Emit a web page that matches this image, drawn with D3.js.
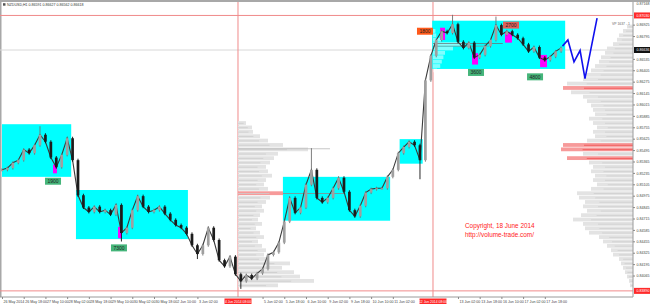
<!DOCTYPE html>
<html>
<head>
<meta charset="utf-8">
<script src="https://cdn.jsdelivr.net/npm/d3@7"></script>
<style>
  body { margin: 0; background: #fff; }
  svg { display: block; font-family: "Liberation Sans", Arial, sans-serif; }
</style>
</head>
<body>
<svg id="chart" width="650" height="306"></svg>
<script>
// NZDUSD H1, closes sampled every 4 bars (bar index = 4 * i)
const closes = [
  0.8527, 0.8529, 0.8535, 0.8538, 0.8550, 0.8546, 0.8555, 0.8567, 0.8559, 0.8541,
  0.8530, 0.8544, 0.8563, 0.8538, 0.8498, 0.8484, 0.8479, 0.8485, 0.8479, 0.8481,
  0.8476, 0.8487, 0.8455, 0.8461, 0.8481, 0.8497, 0.8485, 0.8479, 0.8481, 0.8485,
  0.8477, 0.8470, 0.8464, 0.8461, 0.8454, 0.8441, 0.8431, 0.8441, 0.8461, 0.8447,
  0.8424, 0.8417, 0.8428, 0.8408, 0.8400, 0.8407, 0.8403, 0.8409, 0.8414, 0.8430,
  0.8433, 0.8444, 0.8468, 0.8495, 0.8478, 0.8484, 0.8510, 0.8527, 0.8495, 0.8490,
  0.8495, 0.8506, 0.8518, 0.8502, 0.8481, 0.8474, 0.8486, 0.8501, 0.8505, 0.8506,
  0.8506, 0.8519, 0.8527, 0.8546, 0.8553, 0.8559, 0.8555, 0.8538, 0.8629, 0.8657,
  0.8675, 0.8685, 0.8683, 0.8693, 0.8673, 0.8666, 0.8672, 0.8655, 0.8658, 0.8668,
  0.8675, 0.8692, 0.8681, 0.8685, 0.8681, 0.8677, 0.8670, 0.8662, 0.8667, 0.8655,
  0.8652, 0.8656, 0.8662, 0.8666
];
// extreme wicks: [candle number, price]
const wicks = [[7, 0.8575], [22, 0.8447], [36, 0.8427], [44, 0.8393], [57, 0.8550],
  [77, 0.8518], [83, 0.8702], [91, 0.8700]];

const timeLabels = ["26 May 2014", "26 May 18:00", "27 May 10:00", "28 May 02:00", "28 May 18:00",
  "29 May 10:00", "30 May 02:00", "30 May 18:00", "2 Jun 10:00", "3 Jun 02:00", "3 Jun 18:00",
  "4 Jun 10:00", "5 Jun 02:00", "5 Jun 18:00", "6 Jun 10:00", "9 Jun 02:00", "9 Jun 18:00",
  "10 Jun 10:00", "11 Jun 02:00", "11 Jun 18:00", "12 Jun 10:00", "13 Jun 02:00", "13 Jun 18:00",
  "16 Jun 10:00", "17 Jun 02:00", "17 Jun 18:00"];
const priceTicks = [0.86925, 0.86795, 0.86665, 0.86535, 0.86405, 0.86275, 0.86145, 0.86015,
  0.85885, 0.85755, 0.85625, 0.85495, 0.85365, 0.85235, 0.85105, 0.84975, 0.84845, 0.84715,
  0.84585, 0.84455, 0.84325, 0.84195, 0.84065, 0.83935];

// cyan consolidation zones: [from bar, to bar, top, bottom]
const zones = [[0, 51, 0.8579, 0.8519], [54.5, 137, 0.8504, 0.8448], [207, 286, 0.8519, 0.8469],
  [293, 310, 0.8562, 0.8534], [317, 415, 0.8697, 0.8642]];
// magenta climax bars: [from bar, to bar, top, bottom]
const climax = [[37.6, 40.5, 0.8533, 0.8523], [85.5, 88.4, 0.8462, 0.8449],
  [322.8, 326.5, 0.8689, 0.8675], [346.4, 350.8, 0.8660, 0.8647],
  [370.7, 375.8, 0.8684, 0.8672], [396.5, 401.6, 0.8658, 0.8644]];
// volume tags: [text, bar, price (top), fill]
const tags = [["1900", 31.7, 0.8518, "#45b57a"], ["7300", 80.3, 0.8442, "#45b57a"],
  ["1800", 305.8, 0.8689, "#ff5a1a"], ["2700", 369.2, 0.8696, "#e0605a"],
  ["3600", 343.4, 0.8642, "#45b57a"], ["4800", 386.9, 0.8637, "#45b57a"]];
// projected path (blue)
const projection = [[413, 0.8668], [417, 0.8675], [421.5, 0.8650], [426, 0.8663], [429.6, 0.8631], [438.5, 0.8700]];

// volume profiles
const rightTop = 0.8690; // levels step 0.0005 downwards
const rightVol = [6, 10, 14, 16, 20, 26, 28, 32, 34, 38, 42, 46, 50, 66, 70, 62, 50, 46, 42, 40,
  38, 44, 40, 36, 40, 38, 46, 70, 72, 50, 66, 44, 40, 42, 38, 40, 36, 42, 56, 54,
  48, 50, 46, 52, 60, 50, 48, 44, 34, 30, 26, 22, 20, 14, 12, 10, 8, 6, 4, 3];
const rightPoc = [0.8620, 0.8555, 0.8550, 0.8540];
const leftTop = 0.8580;
const leftVol = [8, 14, 15, 22, 30, 45, 70, 40, 36, 32, 28, 30, 34, 28, 26, 30, 45, 32, 28, 24,
  26, 22, 20, 24, 18, 22, 26, 20, 24, 28, 26, 30, 52, 44, 56, 62, 76, 40];
const leftPoc = [0.8500];
const innerTop = 0.8685;
const innerVol = [6, 8, 20, 75, 50, 30, 26, 22, 18, 10];

const markLines = { top: 0.8703, last: 0.86636, bottom: 0.8389 };
const crossBars = [[173.9, "4 Jun 2014 08:00"], [317.6, "12 Jun 2014 08:00"]];

const svg = d3.select("#chart");
const W = 650, H = 306;
const axisX = 633, axisY = 297;

const x = d3.scaleLinear().domain([0, 468]).range([2, 637.1]);
const y = d3.scaleLinear().domain([0.8390, 0.8710]).range([290, 9.3]);
const step = 0.0005;
const lh = y(0) - y(step); // level height in px
const vol = d3.scaleLinear().domain([0, 100]).range([0, 100]);
const isPoc = (list, p) => list.some(q => Math.abs(q - p) < 1e-6);

// frame
svg.append("rect").attr("x", 0).attr("y", 0).attr("width", W).attr("height", 2).attr("fill", "#a8a8a8");
svg.append("rect").attr("x", 0).attr("y", 0).attr("width", 1.5).attr("height", axisY).attr("fill", "#a8a8a8");

// horizontal lines
svg.append("line").attr("x1", 0).attr("x2", axisX).attr("y1", y(markLines.last)).attr("y2", y(markLines.last))
  .attr("stroke", "#d8d8d8").attr("stroke-width", 1);
[markLines.top, markLines.bottom].forEach(p => {
  svg.append("line").attr("x1", 0).attr("x2", axisX).attr("y1", y(p)).attr("y2", y(p))
    .attr("stroke", "#f08a8a").attr("stroke-width", 1);
});
// vertical lines
crossBars.forEach(c => {
  svg.append("line").attr("x1", x(c[0])).attr("x2", x(c[0])).attr("y1", 2).attr("y2", axisY)
    .attr("stroke", "#f08a8a").attr("stroke-width", 1);
});

// zones
svg.append("g").selectAll("rect").data(zones).join("rect")
  .attr("x", d => x(d[0])).attr("width", d => x(d[1]) - x(d[0]))
  .attr("y", d => y(d[2])).attr("height", d => y(d[3]) - y(d[2]))
  .attr("fill", "#00ffff");

// right profile
const gR = svg.append("g");
gR.selectAll("rect").data(rightVol).join("rect")
  .attr("x", d => axisX - vol(d)).attr("width", d => vol(d))
  .attr("y", (d, i) => y(rightTop - i * step) - lh / 2).attr("height", lh - 0.6)
  .attr("fill", (d, i) => isPoc(rightPoc, rightTop - i * step) ? "#f79a9a" : "#e3e3e3");
gR.selectAll("line").data(rightVol).join("line")
  .attr("x1", d => axisX - vol(d) * 0.7).attr("x2", axisX)
  .attr("y1", (d, i) => y(rightTop - i * step)).attr("y2", (d, i) => y(rightTop - i * step))
  .attr("stroke", (d, i) => isPoc(rightPoc, rightTop - i * step) ? "#f05050" : "#cfcfcf")
  .attr("stroke-width", 0.8);

// left profile
const gL = svg.append("g");
const lx0 = x(crossBars[0][0]);
gL.selectAll("rect").data(leftVol).join("rect")
  .attr("x", lx0).attr("width", d => vol(d))
  .attr("y", (d, i) => y(leftTop - i * step) - lh / 2).attr("height", lh - 0.6)
  .attr("fill", (d, i) => isPoc(leftPoc, leftTop - i * step) ? "#f79a9a" : "#e3e3e3");
gL.selectAll("line").data(leftVol).join("line")
  .attr("x1", lx0).attr("x2", d => lx0 + vol(d) * 0.7)
  .attr("y1", (d, i) => y(leftTop - i * step)).attr("y2", (d, i) => y(leftTop - i * step))
  .attr("stroke", "#cdcdcd").attr("stroke-width", 0.8);
// poc extension across the zone
gL.append("line").attr("x1", lx0 + vol(45)).attr("x2", x(253))
  .attr("y1", y(leftPoc[0])).attr("y2", y(leftPoc[0])).attr("stroke", "#8a8a8a").attr("stroke-width", 0.8);
gL.append("line").attr("x1", lx0).attr("x2", lx0 + vol(92))
  .attr("y1", y(0.8551)).attr("y2", y(0.8551)).attr("stroke", "#b8b8b8").attr("stroke-width", 0.8);

// inner profile of the last zone
const ix0 = x(crossBars[1][0]);
const gI = svg.append("g");
gI.selectAll("rect").data(innerVol).join("rect")
  .attr("x", ix0).attr("width", d => vol(d) * 0.4)
  .attr("y", (d, i) => y(innerTop - i * step) - lh / 2).attr("height", lh - 0.6)
  .attr("fill", "#ffffff").attr("fill-opacity", 0.5);
gI.append("line").attr("x1", ix0).attr("x2", x(369))
  .attr("y1", y(0.8671)).attr("y2", y(0.8671)).attr("stroke", "#6a6a6a").attr("stroke-width", 0.7);
gI.append("line").attr("x1", ix0).attr("x2", x(359))
  .attr("y1", y(0.8668)).attr("y2", y(0.8668)).attr("stroke", "#8a8a8a").attr("stroke-width", 0.7);

// climax bars
svg.append("g").selectAll("rect").data(climax).join("rect")
  .attr("x", d => x(d[0])).attr("width", d => x(d[1]) - x(d[0]))
  .attr("y", d => y(d[2])).attr("height", d => y(d[3]) - y(d[2]))
  .attr("fill", "#ff00ff");

// price path through closes, then candles (open = previous close)
svg.append("path").datum(closes)
  .attr("fill", "none").attr("stroke", "#3a3a3a").attr("stroke-width", 1.1)
  .attr("d", d3.line().x((d, i) => x(4 * i)).y(d => y(d)));
const bw = (x(4) - x(0)) * 0.5;
const gC = svg.append("g");
closes.forEach((c, i) => {
  const o = i > 0 ? closes[i - 1] : c;
  const cx = x(4 * i);
  const up = c >= o;
  const top = Math.max(o, c), bot = Math.min(o, c);
  let hi = top, lo = bot;
  wicks.filter(w => w[0] === i).forEach(w => { hi = Math.max(hi, w[1]); lo = Math.min(lo, w[1]); });
  gC.append("line").attr("x1", cx).attr("x2", cx).attr("y1", y(hi) - 1.5).attr("y2", y(lo) + 1.5)
    .attr("stroke", up ? "#707070" : "#111").attr("stroke-width", 0.9);
  gC.append("rect").attr("x", cx - bw / 2).attr("width", bw)
    .attr("y", y(top)).attr("height", Math.max(1.2, y(bot) - y(top)))
    .attr("fill", up ? "#a0a0a0" : "#1c1c1c");
});

// projection
svg.append("path").datum(projection)
  .attr("fill", "none").attr("stroke", "#1010ee").attr("stroke-width", 1.6)
  .attr("d", d3.line().x(d => x(d[0])).y(d => y(d[1])));

// volume tags
const gT = svg.append("g");
tags.forEach(t => {
  const tx = x(t[1]), ty = y(t[2]);
  gT.append("rect").attr("x", tx).attr("y", ty).attr("width", 16).attr("height", 7).attr("fill", t[3]);
  gT.append("text").attr("x", tx + 8).attr("y", ty + 5.4).attr("text-anchor", "middle")
    .attr("font-size", "5px").attr("fill", "#222").text(t[0]);
});

// right axis; tick labels under the price boxes are dropped
const markPrices = [markLines.top, markLines.last, markLines.bottom];
const shownTicks = priceTicks.filter(p => !markPrices.some(m => Math.abs(y(p) - y(m)) < 6));
svg.append("line").attr("x1", axisX).attr("x2", axisX).attr("y1", 2).attr("y2", axisY).attr("stroke", "#9a9a9a");
const yAxis = svg.append("g").attr("transform", "translate(" + axisX + ",0)")
  .call(d3.axisRight(y).tickValues(shownTicks).tickFormat(d3.format(".5f")).tickSize(2));
yAxis.select(".domain").remove();
yAxis.selectAll("text").attr("font-size", "3.6px").attr("fill", "#444").attr("x", 3.5);
yAxis.selectAll("line").attr("stroke", "#888");
svg.append("text").attr("x", 636.5).attr("y", 4.5).attr("font-size", "3.6px").attr("fill", "#444").text("0.87168");
const axisMarks = [[markLines.top, "#ff2a2a"], [markLines.last, "#111"], [markLines.bottom, "#ff2a2a"]];
axisMarks.forEach(m => {
  svg.append("rect").attr("x", axisX + 1).attr("y", y(m[0]) - 3).attr("width", 16).attr("height", 6).attr("fill", m[1]);
  svg.append("text").attr("x", axisX + 3.5).attr("y", y(m[0]) + 1.3).attr("font-size", "3.6px")
    .attr("fill", "#fff").text(d3.format(".5f")(m[0]));
});
svg.append("text").attr("x", 612).attr("y", 25).attr("font-size", "3.4px").attr("fill", "#666").text("VP 1637 - 1");

// bottom axis; labels hidden under the crosshair boxes are dropped
const crossX = crossBars.map(c => x(c[0]));
const shown = timeLabels.map((d, i) => i * 16)
  .filter(v => !crossX.some(cx => x(v) + 21 > cx - 13.5 && x(v) < cx + 13.5));
svg.append("line").attr("x1", 0).attr("x2", axisX).attr("y1", axisY).attr("y2", axisY).attr("stroke", "#9a9a9a");
const xAxis = svg.append("g").attr("transform", "translate(0," + axisY + ")")
  .call(d3.axisBottom(x).tickValues(shown).tickFormat(d => timeLabels[d / 16]).tickSize(2));
xAxis.select(".domain").remove();
xAxis.selectAll("text").attr("font-size", "3.6px").attr("fill", "#444").attr("text-anchor", "start").attr("dx", "1").attr("y", 3);
xAxis.selectAll("line").attr("stroke", "#888");
crossBars.forEach(c => {
  svg.append("rect").attr("x", x(c[0]) - 13.5).attr("y", axisY + 1.5).attr("width", 27).attr("height", 5.5).attr("fill", "#ff2a2a");
  svg.append("text").attr("x", x(c[0])).attr("y", axisY + 5.6).attr("text-anchor", "middle")
    .attr("font-size", "3.4px").attr("fill", "#fff").text(c[1]);
});

// header
svg.append("rect").attr("x", 3).attr("y", 3.2).attr("width", 2.5).attr("height", 2.5).attr("fill", "#555");
svg.append("text").attr("x", 7).attr("y", 6).attr("font-size", "3.6px").attr("fill", "#333")
  .text("NZDUSD,H1  0.86591 0.86627 0.86562 0.86618");

// copyright
svg.append("text").attr("x", 465).attr("y", 228).attr("font-size", "6.4px").attr("fill", "#ff1a1a").text("Copyright, 18 June 2014");
svg.append("text").attr("x", 465).attr("y", 237).attr("font-size", "6.4px").attr("fill", "#ff1a1a").text("http://volume-trade.com/");
</script>
</body>
</html>
